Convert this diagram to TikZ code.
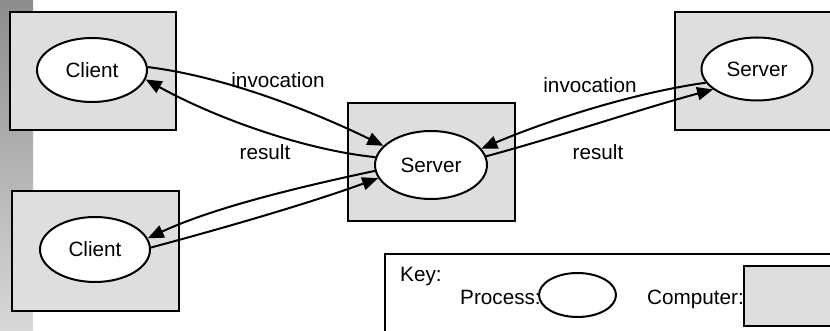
\documentclass[tikz,border=0pt]{standalone}
\usepackage{fontspec}
\setmainfont{Liberation Sans}
\usetikzlibrary{shapes.geometric,arrows.meta}
\definecolor{boxgray}{gray}{0.87}
\tikzstyle{computer} = [rectangle, draw=black, line width=2.5pt, fill=boxgray]
\tikzstyle{process} = [ellipse, draw=black, line width=2pt, fill=white, inner sep=0pt]
\tikzstyle{call} = [line width=2pt, looseness=0.8, -{Triangle[length=16pt,width=13pt]}]
\tikzstyle{keytext} = [anchor=base west, inner sep=0pt]

\begin{document}
\begin{tikzpicture}[x=1pt, y=1pt, every node/.style={font=\fontsize{20.7}{24}\selectfont}]%
	\useasboundingbox (0,0) rectangle (830,331);%
	\shade[top color=black!45, middle color=black!55, bottom color=black!15] (0,0) rectangle (33,331);%
	% computers
	\node [computer, minimum width=166pt, minimum height=118pt] (pc1) at (93,260) {};
	\node [computer, minimum width=167pt, minimum height=120pt] (pc2) at (95.5,80) {};
	\node [computer, minimum width=167pt, minimum height=118pt] (pc3) at (431.5,169) {};
	\node [computer, minimum width=170pt, minimum height=118pt] (pc4) at (760,260) {};
	% processes
	\node [process, minimum width=110pt, minimum height=64pt] (cl1) at (92,261) {Client};
	\node [process, minimum width=110pt, minimum height=65pt] (cl2) at (95,81.5) {Client};
	\node [process, minimum width=112pt, minimum height=68pt] (sv1) at (431,166) {Server};
	\node [process, minimum width=111pt, minimum height=63pt] (sv2) at (757,262) {Server};
	% requests and replies
	\draw [call] (cl1.3) to[out=-7, in=154] (sv1.158);
	\draw [call] (sv1.172) to[out=174, in=-29] (cl1.-10);
	\draw [call] (sv2.195) to[out=188, in=23] (sv1.18);
	\draw [call] (sv1.9) to[out=15, in=195] (sv2.205);
	\draw [call] (sv1.186) to[out=192, in=25] (cl2.12);
	\draw [call] (cl2.2) to[out=15, in=200] (sv1.194);
	\node (inv1) at (278,251) {invocation};
	\node (res1) at (265,179) {result};
	\node (inv2) at (590,246) {invocation};
	\node (res2) at (598,179) {result};
	% key
	\node [draw=black, line width=2pt, minimum width=460pt, minimum height=87pt] (key) at (615,33.5) {};
	\node [keytext] (keylbl) at (400,49) {Key:};
	\node [keytext] (proclbl) at (460,26) {Process:};
	\node [process, minimum width=77pt, minimum height=44pt] (keyproc) at (577.5,36) {};
	\node [keytext] (complbl) at (647,26) {Computer:};
	\node [computer, minimum width=100pt, minimum height=60pt] (keypc) at (794,35) {};
\end{tikzpicture}
\end{document}
